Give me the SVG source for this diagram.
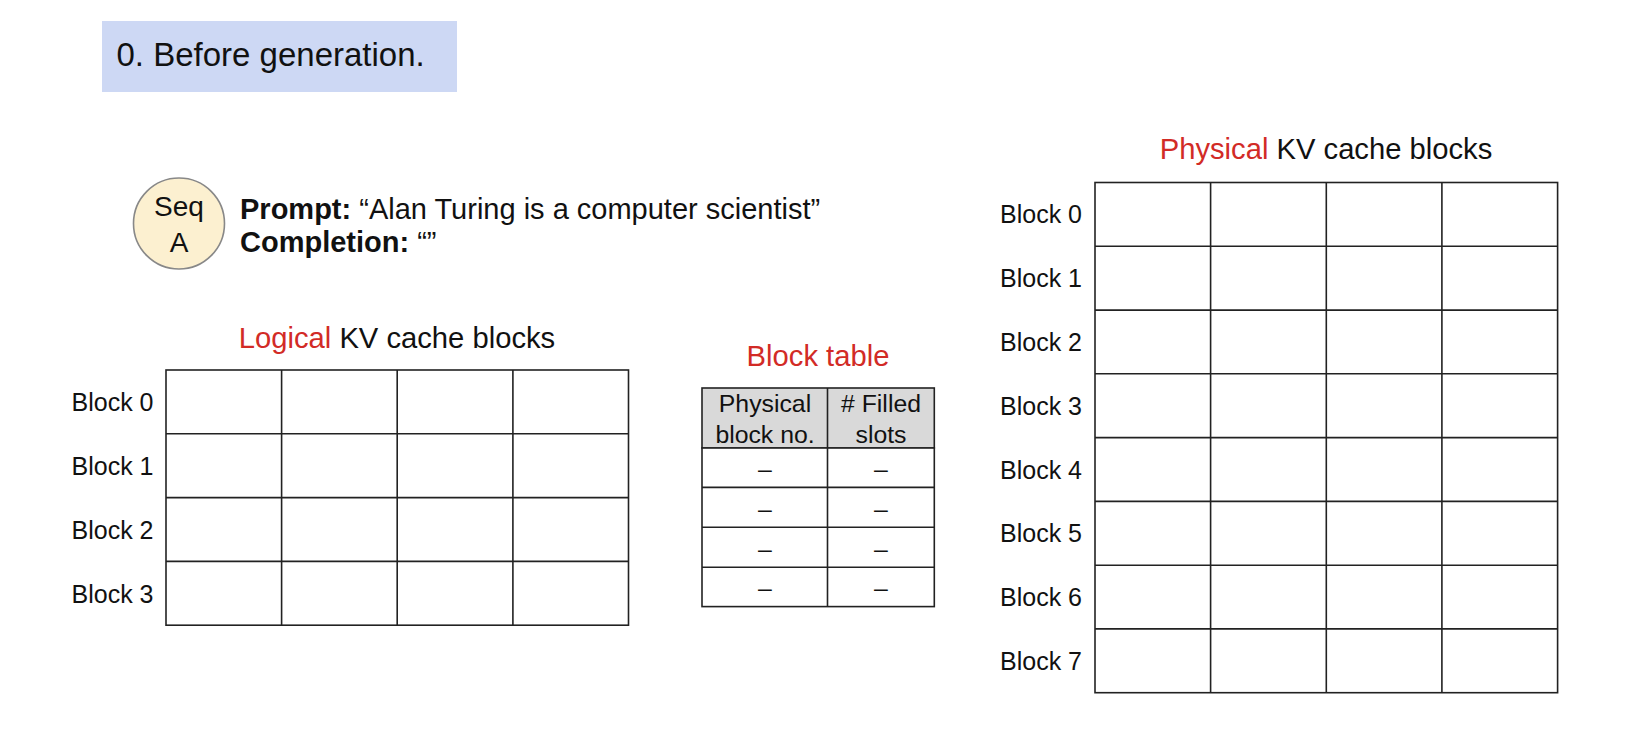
<svg xmlns="http://www.w3.org/2000/svg" width="1626" height="748" viewBox="0 0 1626 748">
<style>
text{font-family:"Liberation Sans",Arial,sans-serif;fill:#111}
.red{fill:#d22b26}
.lbl{font-size:25px;text-anchor:end}
.hdr{font-size:29.2px;text-anchor:middle}
.cell{fill:#fff;stroke:#222;stroke-width:1.6}
.th{fill:#d9d9d9;stroke:#222;stroke-width:1.6}
.ln{stroke:#222;stroke-width:1.6;fill:none}
.tc{font-size:24.8px;text-anchor:middle}
</style>
<rect width="1626" height="748" fill="#fff"/>
<g id="title">
<rect x="102" y="21" width="355" height="71" fill="#cdd8f4"/>
<text x="116.5" y="66" font-size="33">0. Before generation.</text>
</g>
<g id="seqA">
<circle cx="179" cy="223.5" r="45.5" fill="#fcf0d0" stroke="#888" stroke-width="1.6"/>
<text x="179" y="216" font-size="28" text-anchor="middle">Seq</text>
<text x="179" y="251.5" font-size="28" text-anchor="middle">A</text>
</g>
<g id="prompt">
<text x="240" y="218.5" font-size="29"><tspan font-weight="bold">Prompt:</tspan> “Alan Turing is a computer scientist”</text>
<text x="240" y="251.5" font-size="29"><tspan font-weight="bold">Completion:</tspan> “”</text>
</g>
<g id="logical">
<text x="397" y="347.5" class="hdr"><tspan class="red">Logical</tspan> KV cache blocks</text>
<rect class="cell" x="166" y="370" width="462.5" height="255.2"/>
<path class="ln" d="M281.6 370V625.2M397.2 370V625.2M512.9 370V625.2M166 433.8H628.5M166 497.6H628.5M166 561.4H628.5"/>
<text class="lbl" x="153.5" y="411">Block 0</text>
<text class="lbl" x="153.5" y="475">Block 1</text>
<text class="lbl" x="153.5" y="538.5">Block 2</text>
<text class="lbl" x="153.5" y="602.5">Block 3</text>
</g>
<g id="blocktable">
<text x="818" y="365.5" class="hdr"><tspan class="red">Block table</tspan></text>
<rect class="th" x="702" y="388" width="232.3" height="60"/>
<rect class="cell" x="702" y="448" width="232.3" height="158.6"/>
<path class="ln" d="M827.5 388V606.6M702 487.4H934.3M702 527.3H934.3M702 567.2H934.3"/>
<text class="tc" x="765" y="412">Physical</text>
<text class="tc" x="765" y="442.5">block no.</text>
<text class="tc" x="881" y="412"># Filled</text>
<text class="tc" x="881" y="442.5">slots</text>
<text class="tc" x="765" y="477">–</text><text class="tc" x="881" y="477">–</text>
<text class="tc" x="765" y="517">–</text><text class="tc" x="881" y="517">–</text>
<text class="tc" x="765" y="556.5">–</text><text class="tc" x="881" y="556.5">–</text>
<text class="tc" x="765" y="596">–</text><text class="tc" x="881" y="596">–</text>
</g>
<g id="physical">
<text x="1326" y="159" class="hdr"><tspan class="red">Physical</tspan> KV cache blocks</text>
<rect class="cell" x="1095" y="182.5" width="462.6" height="510.2"/>
<path class="ln" d="M1210.6 182.5V692.7M1326.3 182.5V692.7M1441.9 182.5V692.7M1095 246.3H1557.6M1095 310.1H1557.6M1095 373.8H1557.6M1095 437.6H1557.6M1095 501.4H1557.6M1095 565.2H1557.6M1095 628.9H1557.6"/>
<text class="lbl" x="1082" y="223">Block 0</text>
<text class="lbl" x="1082" y="287">Block 1</text>
<text class="lbl" x="1082" y="351">Block 2</text>
<text class="lbl" x="1082" y="414.5">Block 3</text>
<text class="lbl" x="1082" y="478.5">Block 4</text>
<text class="lbl" x="1082" y="542">Block 5</text>
<text class="lbl" x="1082" y="606">Block 6</text>
<text class="lbl" x="1082" y="670">Block 7</text>
</g>
</svg>
